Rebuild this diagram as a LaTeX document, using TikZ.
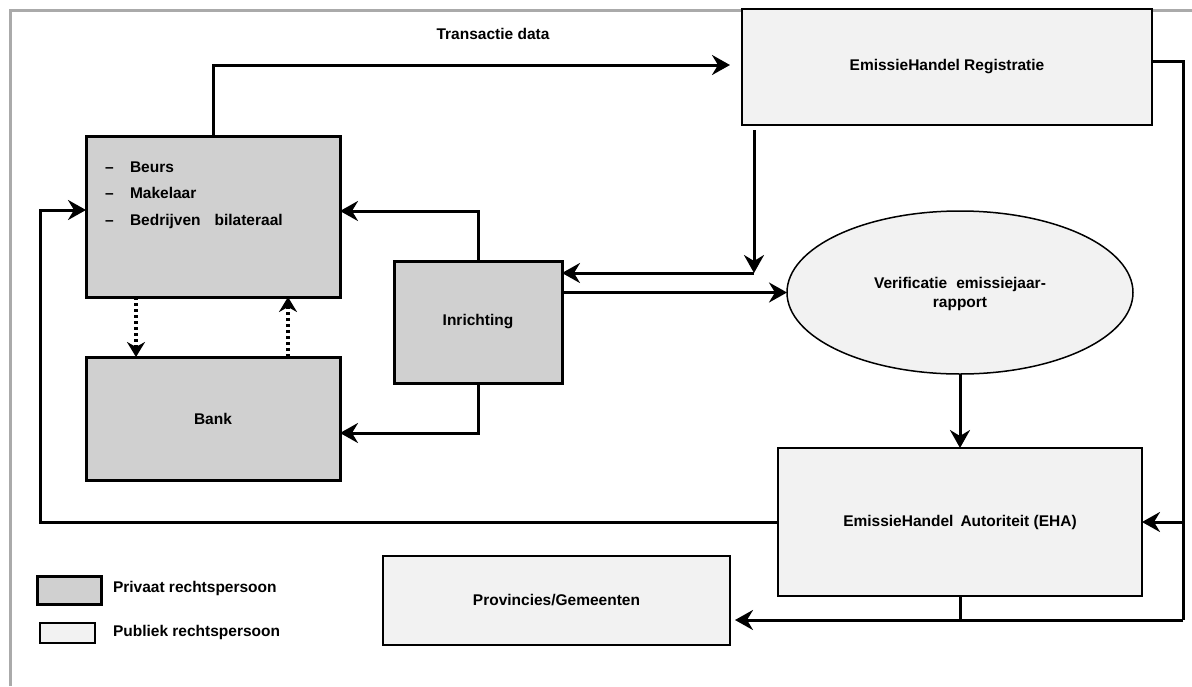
\documentclass[tikz,border=0pt]{standalone}
\usepackage{fontspec}
\setmainfont{Liberation Sans}
\usetikzlibrary{arrows.meta,shapes.geometric}
\definecolor{privfill}{HTML}{D0D0D0}
\definecolor{pubfill}{HTML}{F2F2F2}
\definecolor{framegray}{HTML}{AAAAAA}
\begin{document}
\begin{tikzpicture}[x=1pt,y=-1pt,
  font=\bfseries\fontsize{15.5}{19}\selectfont,
  privbox/.style={rectangle,draw,line width=3pt,fill=privfill,inner sep=0pt,outer sep=0pt},
  pubbox/.style={rectangle,draw,line width=1.5pt,fill=pubfill,inner sep=0pt,outer sep=0pt},
  conn/.style={line width=3pt},
  arr/.style={conn,-{Stealth[length=18pt,width=20pt,inset=6pt]}},
  dotarr/.style={line width=4pt,dash pattern=on 3pt off 3pt,-{Stealth[length=15pt,width=18pt,inset=5pt]}},
  lbl/.style={inner sep=0pt,outer sep=0pt}]
\useasboundingbox (0,0) rectangle (1192,686);
\fill[white] (0,0) rectangle (1192,686);
% frame
\draw[framegray,line width=3pt] (10,686) -- (10,10) -- (1192,10);

% nodes
\node[privbox,minimum width=254pt,minimum height=161pt] (beurs) at (213,216.5) {};
\node[privbox,minimum width=254pt,minimum height=123pt] (bank) at (213,418.5) {Bank};
\node[privbox,minimum width=168pt,minimum height=122pt] (inr) at (478,322) {Inrichting};
\node[pubbox,minimum width=410pt,minimum height=116pt] (reg) at (947,67) {EmissieHandel Registratie};
\node[pubbox,minimum width=364pt,minimum height=148pt] (eha) at (960,522) {EmissieHandel\hskip 7pt Autoriteit (EHA)};
\node[pubbox,minimum width=347pt,minimum height=89pt] (prov) at (556.5,600.5) {Provincies/Gemeenten};
\node[ellipse,draw,line width=1.5pt,fill=pubfill,inner sep=0pt,outer sep=0pt,
      minimum width=346pt,minimum height=163pt] (ver) at (960,292.5) {};
\node[lbl,align=center] (vertxt) at (960,294) {Verificatie\hskip 9pt emissiejaar-\\rapport};

% Beurs list
\node[lbl,anchor=base west] (d1) at (105,172) {–};
\node[lbl,anchor=base west] (t1) at (130,172) {Beurs};
\node[lbl,anchor=base west] (d2) at (105,198) {–};
\node[lbl,anchor=base west] (t2) at (130,198) {Makelaar};
\node[lbl,anchor=base west] (d3) at (105,225) {–};
\node[lbl,anchor=base west] (t3) at (130,225) {Bedrijven\hskip 14pt bilateraal};

% label
\node[lbl,anchor=base] (tdata) at (493,39) {Transactie data};

% coordinates
\coordinate (j1) at (754,273);
\coordinate (lx) at (40,0);
\coordinate (rx) at (1183,620);

% connectors
\draw[arr,shorten >=12pt] (beurs.north) |- ([yshift=2pt]reg.west);
\draw[arr] (inr.north) |- (beurs.east |- 0,211);
\draw[arr] (inr.south) |- (bank.east |- 0,433);
\draw[arr,shorten <=5pt] (reg.south -| j1) -- (j1);
\draw[arr] (j1) -- (inr.east |- j1);
\draw[arr] (inr.east |- ver.west) -- (ver.west);
\draw[arr] (ver.south) -- (eha.north);
\draw[arr] (eha.west) -- (eha.west -| lx) |- (beurs.west |- 0,210);
\draw[conn] (reg.east |- 0,61) -| (rx);
\draw[arr,shorten >=5pt] (rx) -- (prov.east |- rx);
\draw[arr] (eha.east -| rx) -- (eha.east);
\draw[conn] (eha.south) -- (eha.south |- rx);

% dotted
\draw[dotarr] (beurs.south -| 136,0) -- (bank.north -| 136,0);
\draw[dotarr] (bank.north -| 288,0) -- (beurs.south -| 288,0);

% legend
\node[privbox,minimum width=64pt,minimum height=28pt] (legpriv) at (69,590) {};
\node[pubbox,minimum width=55pt,minimum height=20pt] (legpub) at (67.5,633) {};
\node[lbl,anchor=west] (legprivt) at (113,588) {Privaat rechtspersoon};
\node[lbl,anchor=west] (legpubt) at (113,632) {Publiek rechtspersoon};
\end{tikzpicture}
\end{document}
